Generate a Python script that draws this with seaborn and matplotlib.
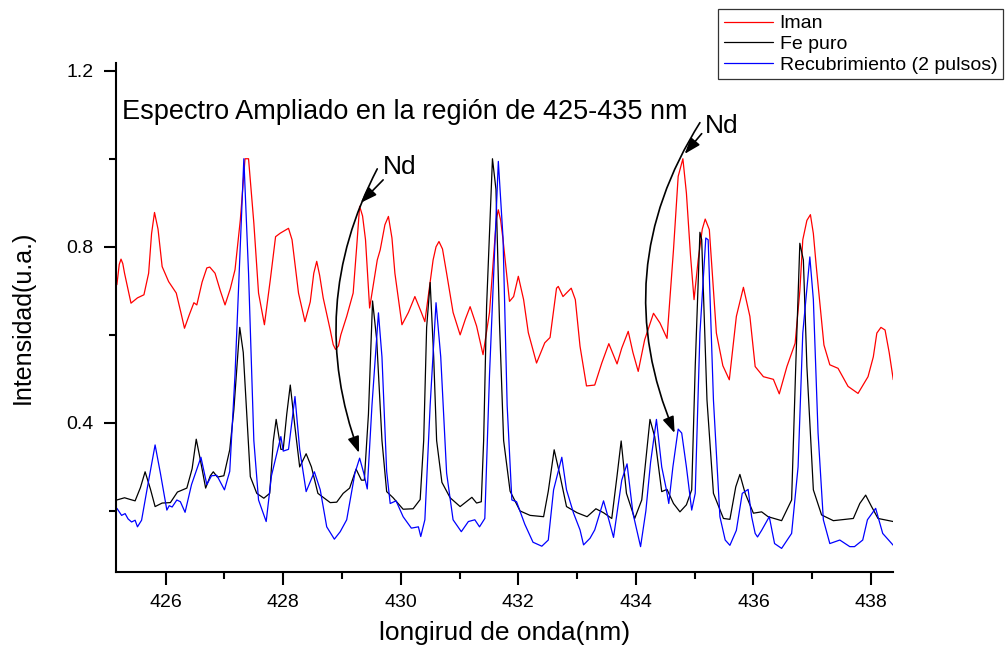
import pandas as pd
import matplotlib.pyplot as plt
import seaborn as sns
from matplotlib.lines import Line2D
from matplotlib.ticker import MultipleLocator

iman_x = [425.17, 425.21, 425.24, 425.27, 425.30, 425.41, 425.52, 425.63, 425.71, 425.76, 425.81, 425.87, 425.94,
          426.05, 426.18, 426.26, 426.32, 426.40, 426.48, 426.53, 426.62, 426.70, 426.75, 426.84,
          426.93, 427.01, 427.10, 427.18, 427.27, 427.35, 427.41, 427.50, 427.58, 427.68, 427.78, 427.87,
          427.95, 428.09, 428.15, 428.26, 428.37, 428.46, 428.52, 428.57, 428.62, 428.68, 428.80, 428.85, 428.89,
          428.94, 428.98, 429.08, 429.19, 429.25, 429.30, 429.35, 429.40, 429.47, 429.60, 429.65, 429.73, 429.79, 429.85, 429.90, 430.02,
          430.13, 430.24, 430.35, 430.41, 430.55, 430.60, 430.65, 430.71, 430.78, 430.89, 431.01, 431.10,
          431.18, 431.29, 431.40, 431.51, 431.60, 431.63, 431.66, 431.70, 431.74, 431.85, 431.92, 432.00,
          432.09, 432.17, 432.31, 432.45, 432.54, 432.65, 432.68, 432.76, 432.90, 432.97,
          433.05, 433.16, 433.30, 433.42, 433.54, 433.68, 433.76, 433.87, 433.95, 434.04,
          434.15, 434.30, 434.41, 434.53, 434.64, 434.72, 434.80, 434.86, 434.93, 434.99, 435.06,
          435.13, 435.18, 435.25, 435.31, 435.37, 435.48, 435.59, 435.71, 435.83, 435.94, 436.03, 436.17, 436.34,
          436.44, 436.57, 436.71, 436.79, 436.84, 436.91, 436.97, 437.02, 437.07, 437.20, 437.30, 437.44, 437.61,
          437.78, 437.95, 438.04, 438.10, 438.17, 438.24, 438.31, 438.38]
iman_y = [0.714, 0.760, 0.772, 0.762, 0.740, 0.672, 0.684, 0.691, 0.740, 0.830, 0.878, 0.840, 0.755,
          0.721, 0.695, 0.650, 0.615, 0.645, 0.673, 0.668, 0.720, 0.752, 0.754, 0.740,
          0.700, 0.668, 0.705, 0.748, 0.861, 1.000, 1.000, 0.854, 0.695, 0.623, 0.725, 0.823,
          0.831, 0.842, 0.816, 0.695, 0.630, 0.675, 0.740, 0.767, 0.735, 0.684, 0.611, 0.578, 0.567,
          0.575, 0.600, 0.642, 0.695, 0.800, 0.892, 0.870, 0.816, 0.661, 0.770, 0.793, 0.850, 0.869, 0.820, 0.740, 0.623,
          0.651, 0.687, 0.651, 0.630, 0.770, 0.800, 0.812, 0.795, 0.740, 0.651, 0.600, 0.636,
          0.664, 0.620, 0.555, 0.651, 0.816, 0.865, 0.884, 0.860, 0.816, 0.676, 0.687, 0.733,
          0.680, 0.605, 0.536, 0.582, 0.594, 0.706, 0.710, 0.687, 0.706, 0.680,
          0.574, 0.484, 0.486, 0.536, 0.580, 0.534, 0.570, 0.608, 0.560, 0.517,
          0.589, 0.649, 0.627, 0.592, 0.793, 0.960, 1.000, 0.922, 0.780, 0.680, 0.770,
          0.840, 0.863, 0.839, 0.720, 0.604, 0.530, 0.498, 0.642, 0.708, 0.642, 0.528, 0.505, 0.499,
          0.466, 0.528, 0.581, 0.700, 0.816, 0.860, 0.873, 0.830, 0.755, 0.577, 0.532, 0.524, 0.483,
          0.467, 0.505, 0.550, 0.604, 0.617, 0.611, 0.560, 0.498]

fe_x = [425.17, 425.30, 425.40, 425.48, 425.57, 425.65, 425.74, 425.82, 425.94, 426.08,
        426.20, 426.36, 426.45, 426.52, 426.59, 426.68, 426.76, 426.81, 426.88, 426.99,
        427.09, 427.16, 427.26, 427.32, 427.44, 427.55, 427.67, 427.77, 427.83, 427.88,
        427.96, 428.00, 428.06, 428.12, 428.20, 428.28, 428.39, 428.48, 428.59, 428.80,
        428.91, 429.02, 429.13, 429.24, 429.33, 429.38, 429.45, 429.52, 429.59, 429.68,
        429.76, 429.87, 430.04, 430.21, 430.33, 430.39, 430.44, 430.50, 430.56, 430.61,
        430.70, 430.84, 431.01, 431.21, 431.29, 431.37, 431.41, 431.46, 431.56, 431.62,
        431.68, 431.75, 431.86, 432.03, 432.20, 432.43, 432.51, 432.61, 432.71, 432.82,
        433.00, 433.17, 433.32, 433.45, 433.59, 433.68, 433.75, 433.84, 433.98, 434.10,
        434.24, 434.32, 434.44, 434.53, 434.64, 434.75, 434.86, 434.95, 435.01, 435.09,
        435.12, 435.21, 435.32, 435.49, 435.60, 435.70, 435.77, 435.86, 436.00, 436.14,
        436.25, 436.48, 436.65, 436.72, 436.79, 436.85, 436.91, 437.02, 437.16, 437.36,
        437.70, 437.81, 437.91, 438.01, 438.12, 438.38]
fe_y = [0.225, 0.230, 0.226, 0.223, 0.253, 0.289, 0.250, 0.210, 0.218, 0.219,
        0.243, 0.252, 0.296, 0.363, 0.316, 0.252, 0.280, 0.289, 0.277, 0.280,
        0.339, 0.430, 0.617, 0.560, 0.278, 0.240, 0.229, 0.240, 0.358, 0.408,
        0.340, 0.340, 0.420, 0.486, 0.390, 0.300, 0.330, 0.300, 0.240, 0.219,
        0.220, 0.240, 0.252, 0.295, 0.270, 0.270, 0.420, 0.677, 0.590, 0.360,
        0.244, 0.230, 0.204, 0.205, 0.226, 0.360, 0.617, 0.719, 0.550, 0.360,
        0.265, 0.230, 0.210, 0.231, 0.218, 0.221, 0.360, 0.664, 1.000, 0.930,
        0.627, 0.360, 0.245, 0.200, 0.190, 0.187, 0.245, 0.339, 0.280, 0.210,
        0.196, 0.187, 0.205, 0.196, 0.183, 0.280, 0.359, 0.240, 0.183, 0.225,
        0.408, 0.369, 0.244, 0.249, 0.217, 0.198, 0.214, 0.248, 0.528, 0.833,
        0.816, 0.452, 0.240, 0.183, 0.181, 0.255, 0.283, 0.240, 0.195, 0.198,
        0.187, 0.178, 0.225, 0.528, 0.808, 0.770, 0.528, 0.248, 0.191, 0.178,
        0.183, 0.217, 0.236, 0.210, 0.183, 0.176]

rec_x = [425.17, 425.25, 425.31, 425.36, 425.42, 425.48, 425.52, 425.59, 425.68, 425.82,
         425.91, 426.02, 426.06, 426.11, 426.19, 426.25, 426.33, 426.44, 426.60, 426.70,
         426.78, 426.87, 427.00, 427.09, 427.18, 427.33, 427.41, 427.50, 427.58, 427.71,
         427.80, 427.96, 428.00, 428.09, 428.20, 428.28, 428.39, 428.53, 428.63, 428.74,
         428.87, 428.97, 429.08, 429.22, 429.30, 429.37, 429.43, 429.51, 429.62, 429.68,
         429.76, 429.82, 429.92, 430.04, 430.18, 430.30, 430.34, 430.41, 430.50, 430.60,
         430.68, 430.78, 430.89, 431.03, 431.15, 431.26, 431.34, 431.43, 431.51, 431.66,
         431.74, 431.81, 431.89, 431.97, 432.11, 432.25, 432.40, 432.51, 432.60, 432.74,
         432.82, 432.94, 433.05, 433.11, 433.22, 433.30, 433.45, 433.54, 433.62, 433.76,
         433.85, 433.95, 434.08, 434.17, 434.25, 434.35, 434.44, 434.52, 434.56, 434.63,
         434.72, 434.78, 434.86, 434.95, 435.01, 435.09, 435.19, 435.23, 435.32, 435.43,
         435.52, 435.60, 435.71, 435.81, 435.91, 435.97, 436.03, 436.07, 436.14, 436.27,
         436.36, 436.48, 436.65, 436.76, 436.84, 436.96, 437.02, 437.10, 437.19, 437.30,
         437.47, 437.64, 437.72, 437.86, 437.94, 438.08, 438.20, 438.38]
rec_y = [0.206, 0.190, 0.194, 0.182, 0.175, 0.179, 0.164, 0.179, 0.247, 0.350,
         0.286, 0.202, 0.212, 0.209, 0.225, 0.221, 0.197, 0.260, 0.322, 0.260,
         0.280, 0.281, 0.248, 0.290, 0.510, 1.000, 0.740, 0.360, 0.225, 0.176,
         0.280, 0.369, 0.336, 0.340, 0.460, 0.340, 0.244, 0.289, 0.248, 0.164,
         0.136, 0.153, 0.180, 0.286, 0.320, 0.286, 0.250, 0.440, 0.650, 0.550,
         0.290, 0.217, 0.223, 0.187, 0.161, 0.164, 0.142, 0.180, 0.440, 0.673,
         0.550, 0.286, 0.180, 0.153, 0.176, 0.180, 0.164, 0.183, 0.510, 0.994,
         0.820, 0.440, 0.225, 0.221, 0.170, 0.129, 0.120, 0.134, 0.248, 0.322,
         0.248, 0.195, 0.157, 0.123, 0.138, 0.157, 0.223, 0.180, 0.140, 0.270,
         0.307, 0.195, 0.119, 0.200, 0.310, 0.408, 0.300, 0.248, 0.217, 0.300,
         0.386, 0.377, 0.300, 0.202, 0.240, 0.604, 0.820, 0.816, 0.452, 0.187,
         0.134, 0.122, 0.156, 0.240, 0.249, 0.187, 0.149, 0.141, 0.156, 0.187,
         0.126, 0.115, 0.149, 0.300, 0.604, 0.777, 0.680, 0.377, 0.180, 0.126,
         0.134, 0.119, 0.119, 0.134, 0.180, 0.206, 0.149, 0.122]

series = ["Iman", "Fe puro", "Recubrimiento (2 pulsos)"]
colores = {"Iman": "#ff0000", "Fe puro": "#000000", "Recubrimiento (2 pulsos)": "#0000ff"}

df = pd.concat([
    pd.DataFrame({"x": iman_x, "y": iman_y, "serie": series[0]}),
    pd.DataFrame({"x": fe_x, "y": fe_y, "serie": series[1]}),
    pd.DataFrame({"x": rec_x, "y": rec_y, "serie": series[2]}),
], ignore_index=True)

sns.set_style("ticks")
plt.rcParams["font.family"] = ["Liberation Sans", "DejaVu Sans"]
plt.rcParams["text.color"] = "black"
plt.rcParams["axes.labelcolor"] = "black"
plt.rcParams["xtick.color"] = "black"
plt.rcParams["ytick.color"] = "black"

fig = plt.figure(figsize=(10.08, 6.5), dpi=100)
ax = fig.add_axes([0.1148, 0.12, 0.7714, 0.7831])

sns.lineplot(data=df, x="x", y="y", hue="serie", palette=colores, estimator=None,
             sort=False, linewidth=0.9, legend=False, ax=ax)

ax.set_xlim(425.15, 438.38)
ax.set_ylim(0.0614, 1.2175)
ax.xaxis.set_major_locator(MultipleLocator(2))
ax.xaxis.set_minor_locator(MultipleLocator(1))
ax.yaxis.set_major_locator(MultipleLocator(0.4))
ax.yaxis.set_minor_locator(MultipleLocator(0.2))
ax.tick_params(which="major", length=9, width=1.5, labelsize=14, pad=7, colors="black")
ax.tick_params(which="minor", length=5, width=1.5, colors="black")
sns.despine(ax=ax)
for s in ["left", "bottom"]:
    ax.spines[s].set_linewidth(1.5)
    ax.spines[s].set_color("black")

ax.set_xlabel("longirud de onda(nm)", fontsize=19, ha="center", va="center")
ax.set_ylabel("Intensidad(u.a.)", fontsize=18, ha="center", va="center")
ax.xaxis.set_label_coords(0.5, -0.12)
ax.yaxis.set_label_coords(-0.12, 0.5)

fig.text(405 / 1008, 1 - 112 / 650, "Espectro Ampliado en la región de 425-435 nm",
         fontsize=19.5, ha="center", va="center")

# Flechas Nd
flecha = dict(arrowstyle="-|>,head_length=0.7,head_width=0.25", color="black",
              lw=1.2, shrinkA=0, shrinkB=0, mutation_scale=14)
ax.text(429.99, 0.982, "Nd", fontsize=19, ha="center", va="center")
ax.annotate("", xy=(429.32, 0.90), xytext=(429.70, 0.952), arrowprops=flecha)
ax.annotate("", xy=(429.29, 0.332), xytext=(429.60, 0.977),
            arrowprops=dict(flecha, connectionstyle="arc3,rad=0.22"))
ax.text(435.46, 1.075, "Nd", fontsize=19, ha="center", va="center")
ax.annotate("", xy=(434.83, 1.011), xytext=(435.12, 1.057), arrowprops=flecha)
ax.annotate("", xy=(434.66, 0.377), xytext=(435.09, 1.082),
            arrowprops=dict(flecha, connectionstyle="arc3,rad=0.26"))

handles = [Line2D([], [], color=colores[s], lw=0.9) for s in series]
leg = ax.legend(handles, series, loc="upper right", bbox_to_anchor=(1003 / 1008, 1 - 9 / 650),
                bbox_transform=fig.transFigure, fontsize=14, frameon=True, fancybox=False,
                handlelength=2.5, handletextpad=0.35, labelspacing=0.15, borderpad=0.3,
                borderaxespad=0)
leg.get_frame().set_edgecolor("black")
leg.get_frame().set_linewidth(0.9)

fig.savefig("out.png", dpi=100)
